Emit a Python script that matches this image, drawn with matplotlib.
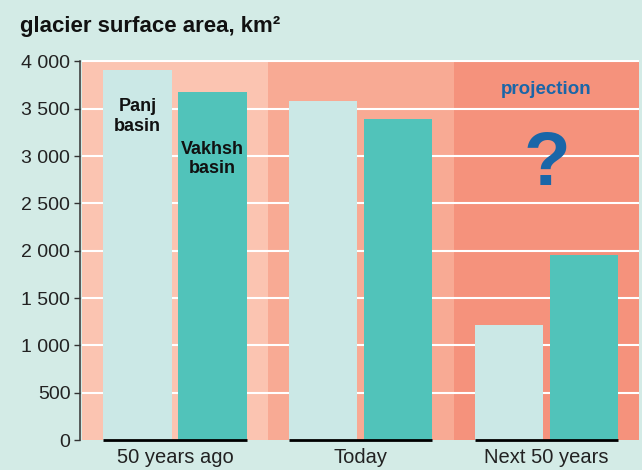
import matplotlib
matplotlib.use('Agg')
import matplotlib.pyplot as plt
import numpy as np

# glacier surface area per basin, km2
periods = ['50 years ago', 'Today', 'Next 50 years']
panj = [3910, 3580, 1215]
vakhsh = [3675, 3390, 1950]
yticks = [0, 500, 1000, 1500, 2000, 2500, 3000, 3500, 4000]

bg = '#D3EBE6'
panel_colors = ['#FBC4B1', '#F8AA94', '#F5927C']
panj_color = '#CBE8E6'
vakhsh_color = '#51C3BA'
blue = '#1A66A8'

plt.rcParams['font.family'] = ['Liberation Sans', 'DejaVu Sans']

fig = plt.figure(figsize=(6.42, 4.70), dpi=100)
fig.patch.set_facecolor(bg)
ax = fig.add_axes([0.128, 0.0638, 0.8676, 0.8092])
ax.set_facecolor(bg)

x = np.arange(len(periods))
w = 0.368
off = 0.202

# coloured bands behind each period
for i, c in enumerate(panel_colors):
    ax.axvspan(i - 0.5, i + 0.5, color=c, lw=0, zorder=0)

for t in yticks[1:]:
    ax.axhline(t, color='white', lw=1.5, zorder=1)

ax.bar(x - off, panj, w, color=panj_color, zorder=2)
ax.bar(x + off, vakhsh, w, color=vakhsh_color, zorder=2)

# black base line under each pair
for xi in x:
    ax.plot([xi - off - w / 2, xi + off + w / 2], [0, 0], color='black',
            lw=2.0, solid_capstyle='butt', zorder=3, clip_on=False)

ax.set_xlim(-0.5, 2.5)
ax.set_ylim(0, 4018)

for s in ['top', 'right', 'bottom']:
    ax.spines[s].set_visible(False)
ax.spines['left'].set_position(('outward', 1.5))
ax.spines['left'].set_bounds(0, 4000)
ax.spines['left'].set_color('#333333')
ax.spines['left'].set_linewidth(1.1)

ax.set_yticks(yticks)
ax.set_yticklabels([f'{v:,}'.replace(',', ' ') for v in yticks])
ax.tick_params(axis='y', length=4, width=1.0, color='#333333', pad=3,
               labelsize=14, labelcolor='#222222')
ax.set_xticks(x)
ax.set_xticklabels(periods)
ax.tick_params(axis='x', length=0, pad=6, labelsize=14.5, labelcolor='#222222')

# basin names inside the first pair
ax.text(0 - off, 3608, 'Panj\nbasin', ha='center', va='top', fontsize=13,
        fontweight='bold', color='#111111', linespacing=1.2, zorder=4)
ax.text(0 + off, 3164, 'Vakhsh\nbasin', ha='center', va='top', fontsize=13,
        fontweight='bold', color='#111111', linespacing=1.2, zorder=4)

ax.text(2, 3651, 'projection', ha='center', va='baseline', fontsize=13.5,
        fontweight='bold', color=blue, zorder=4)
ax.text(2, 2698, '?', ha='center', va='baseline', fontsize=55,
        fontweight='bold', color=blue, zorder=4)

fig.text(0.031, 0.932, 'glacier surface area, km²', ha='left', va='baseline',
         fontsize=16, fontweight='bold', color='#111111')

fig.savefig('out.png', dpi=100, facecolor=bg)
